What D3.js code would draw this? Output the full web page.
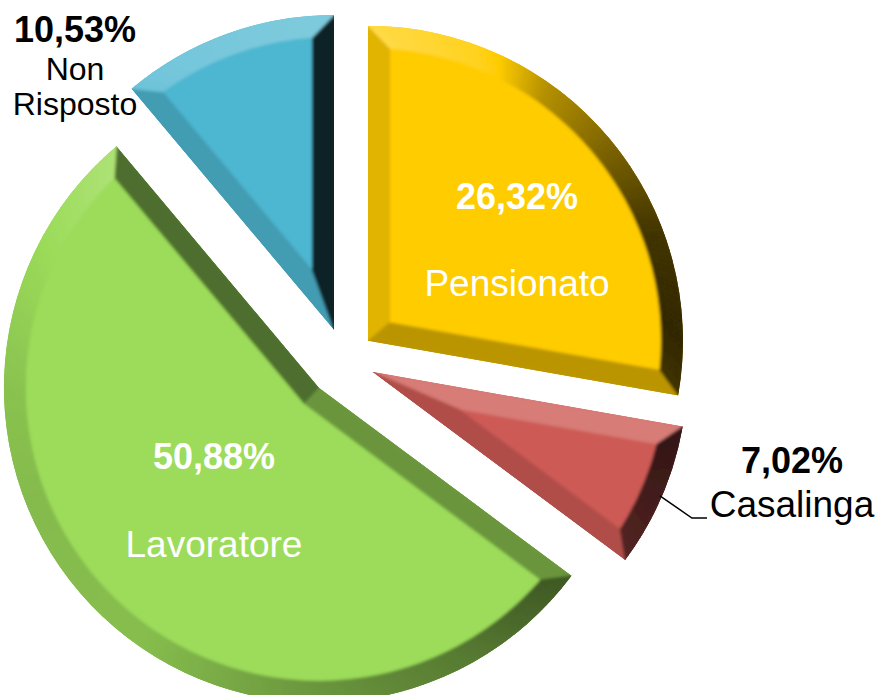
<!DOCTYPE html>
<html>
<head>
<meta charset="utf-8">
<script src="https://cdn.jsdelivr.net/npm/d3@7"></script>
<style>
  body { margin: 0; background: #fff; }
  text { font-family: "Liberation Sans", Arial, sans-serif; }
</style>
</head>
<body>
<div id="chart"></div>
<script>
// data
const categories = ["Pensionato", "Casalinga", "Lavoratore", "Non Risposto"];
const values = [26.32, 7.02, 50.88, 10.53];
const colors = ["#ffcc00", "#cd5a55", "#9cdc5a", "#4db6d0"];

// layout
const width = 881, height = 695;
const cx = 345, cy = 360, radius = 315, bevel = 22;
const explode = [30, 30, 38, 32];
// label blocks: [x, baseline of percent, baseline of name], inside = white
const labelPos = [[517, 209, 296], [792, 473, 517], [214, 469, 557], [75, 42, 80]];
const inside = [true, false, true, false];

const svg = d3.select("#chart").append("svg")
  .attr("width", width)
  .attr("height", height);

const pie = d3.pie().sort(null).value(d => d);
const arcs = pie(values);

const arc = d3.arc().innerRadius(0).outerRadius(radius);

// shading of a bevel facet by the angle its normal points to (clockwise from up)
const shade = d3.scaleLinear()
  .domain([0, 20, 35, 50, 70, 90, 120, 150, 180, 215, 250, 270, 300, 325, 360])
  .range([0.28, 0.12, -0.3, -0.5, -0.75, -0.82, -0.65, -0.45, -0.32, -0.14, -0.15, -0.12, 0.0, 0.22, 0.28])
  .clamp(true);

function tint(base, phi) {
  phi = ((phi % (2 * Math.PI)) + 2 * Math.PI) % (2 * Math.PI);
  let f = shade(phi * 180 / Math.PI);
  return f > 0 ? d3.interpolateRgb(base, "#fff")(f) : d3.interpolateRgb(base, "#000")(-f);
}

const u = (a, r) => [r * Math.sin(a), -r * Math.cos(a)];

const defs = svg.append("defs");
defs.append("filter").attr("id", "soft")
  .append("feGaussianBlur").attr("stdDeviation", 1.8);

let line = d3.line();

arcs.forEach((d, i) => {
  let a0 = d.startAngle, a1 = d.endAngle;
  let mid = (a0 + a1) / 2, span = a1 - a0;
  let off = u(mid, explode[i]);
  let g = svg.append("g")
    .attr("transform", "translate(" + (cx + off[0]) + "," + (cy + off[1]) + ")");

  defs.append("clipPath").attr("id", "clip" + i)
    .append("path").attr("d", arc(d));

  let ri = radius - bevel;
  let del = Math.asin(bevel / ri);
  let apexIn = u(mid, bevel / Math.sin(span / 2));

  let facets = [];
  facets.push({ pts: [[0, 0], u(a0, radius), u(a0 + del, ri), apexIn], phi: a0 - Math.PI / 2 });
  facets.push({ pts: [[0, 0], u(a1, radius), u(a1 - del, ri), apexIn], phi: a1 + Math.PI / 2 });
  let n = Math.ceil(span / (Math.PI / 180));
  for (let k = 0; k < n; k++) {
    let o0 = a0 + span * k / n, o1 = a0 + span * (k + 1) / n;
    let b0 = a0 + del + (span - 2 * del) * k / n, b1 = a0 + del + (span - 2 * del) * (k + 1) / n;
    facets.push({ pts: [u(o0, radius), u(o1, radius), u(b1, ri), u(b0, ri)], phi: (o0 + o1) / 2 });
  }

  let face = d3.path();
  face.moveTo(apexIn[0], apexIn[1]);
  let p0 = u(a0 + del, ri);
  face.lineTo(p0[0], p0[1]);
  face.arc(0, 0, ri, a0 + del - Math.PI / 2, a1 - del - Math.PI / 2);
  face.closePath();

  let draw = function(sel) {
    sel.append("path").attr("d", arc(d)).attr("fill", colors[i]);
    sel.selectAll("path.facet")
      .data(facets)
      .enter()
      .append("path")
      .attr("class", "facet")
      .attr("d", f => line(f.pts) + "Z")
      .attr("fill", f => tint(colors[i], f.phi))
      .attr("stroke", f => tint(colors[i], f.phi))
      .attr("stroke-width", 0.6);
    sel.append("path").attr("d", face.toString()).attr("fill", colors[i]);
  };

  let crisp = g.append("g").attr("clip-path", "url(#clip" + i + ")");
  draw(crisp);
  let soft = g.append("g").attr("clip-path", "url(#clip" + i + ")")
    .append("g").attr("filter", "url(#soft)");
  draw(soft);
});

// leader line for Casalinga
{
  let d = arcs[1];
  let mid = (d.startAngle + d.endAngle) / 2;
  let off = u(mid, explode[1]);
  let p = u(mid, radius - 2);
  let sx = cx + off[0] + p[0], sy = cy + off[1] + p[1];
  let lp = labelPos[1];
  svg.append("path")
    .attr("d", line([[sx, sy], [sx + 32, lp[2] + 1], [lp[0] - 85, lp[2] + 1]]))
    .attr("fill", "none")
    .attr("stroke", "#000")
    .attr("stroke-width", 1.5);
}

// labels
const fmt = v => v.toFixed(2).replace(".", ",") + "%";
arcs.forEach((d, i) => {
  let lp = labelPos[i];
  let col = inside[i] ? "#fff" : "#000";
  let small = i === 3;
  svg.append("text")
    .attr("x", lp[0]).attr("y", lp[1])
    .attr("text-anchor", "middle")
    .attr("font-weight", "bold")
    .attr("font-size", 36)
    .attr("fill", col)
    .text(fmt(values[i]));
  let words = small ? categories[i].split(" ") : [categories[i]];
  words.forEach((w, k) => {
    svg.append("text")
      .attr("x", lp[0]).attr("y", lp[2] + k * 35)
      .attr("text-anchor", "middle")
      .attr("font-size", small ? 32 : 37)
      .attr("fill", col)
      .text(w);
  });
});
</script>
</body>
</html>
